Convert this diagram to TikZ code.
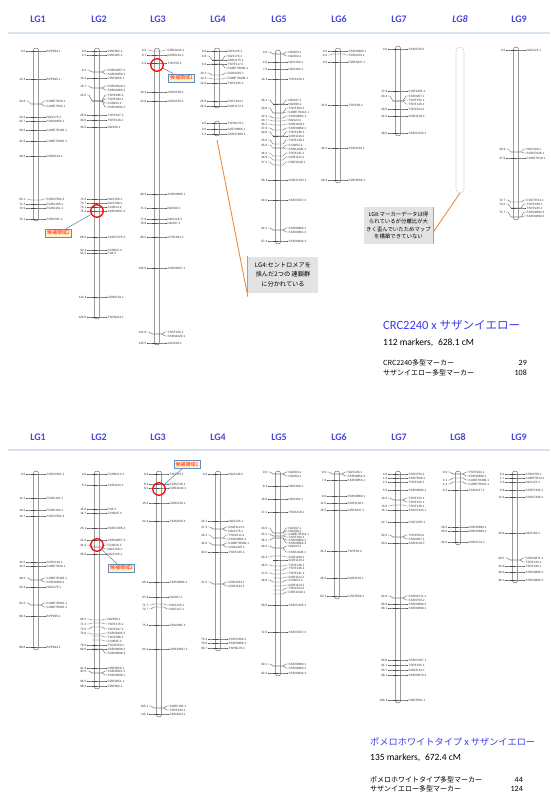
\documentclass[tikz,border=0pt]{standalone}
\usepackage{fontspec}
\setmainfont{Carlito}
\setsansfont{Liberation Sans}
\newfontfamily\cjk{Noto Sans CJK JP}
\usetikzlibrary{positioning}

\definecolor{headblue}{RGB}{72,72,214}
\definecolor{titleblue}{RGB}{60,60,235}
\definecolor{rulecol}{RGB}{214,226,238}
\definecolor{candfill}{RGB}{255,244,200}
\definecolor{candedge}{RGB}{96,140,190}
\definecolor{noteorange}{RGB}{240,140,60}

\tikzset{
  lghead/.style={font=\fontsize{10}{12}\selectfont\bfseries, text=headblue, inner sep=0pt},
  chrbar/.style={draw=black!60, line width=0.45pt, rounded corners=2.5pt, fill=white},
  mkline/.style={draw=black!70, line width=0.3pt},
  mkname/.style={font=\sffamily\fontsize{3.1}{3.4}\selectfont, inner sep=0pt, text=black!80},
  candbox/.style={draw=candedge, line width=0.8pt, fill=candfill, text=red!85!orange,
    font=\cjk\fontsize{5}{6}\selectfont, inner sep=1.6pt},
  candring/.style={draw=red, line width=1.3pt, circle, minimum size=12.5pt, inner sep=0pt},
  candlink/.style={draw=candedge, line width=0.6pt},
  notebox/.style={fill=black!11, align=center, inner sep=2pt},
  noteline/.style={draw=noteorange, line width=0.9pt},
  txt/.style={anchor=base west, inner sep=0pt},
}

% one linkage group: x, top, bottom, {y/label y/cM/marker}
\newcommand{\linkgroup}[4]{%
  \draw[chrbar] (#1-2.6,#2) rectangle (#1+2.6,#3);
  \foreach \ypos/\ylab/\cm/\nm in {#4}{%
    \draw[mkline] (#1-5,\ypos) -- (#1+5,\ypos) -- (#1+8,\ylab) -- (#1+10,\ylab);
    \node[mkname, anchor=west] (r#1-\ypos-\ylab) at (#1+10.5,\ylab) {\nm};
    \ifx\cm\empty\else
      \draw[mkline] (#1-5,\ypos) -- (#1-8,\ylab) -- (#1-10,\ylab);
      \node[mkname, anchor=east] (l#1-\ypos-\ylab) at (#1-10.5,\ylab) {\cm};
    \fi
  }%
}

\begin{document}
\begin{tikzpicture}[x=1pt, y=-1pt]
  \useasboundingbox (0,0) rectangle (550,794);
  \fill[white] (0,0) rectangle (550,794);

  % ---------- upper map ----------
  \foreach \i/\x in {1/38,2/99,3/158,4/218,5/279,6/339,7/399,9/519}
    \node[lghead] (ht\i) at (\x,19) {LG\i};
  \node[lghead, font=\fontsize{10}{12}\selectfont\bfseries\itshape] (ht8) at (460,19) {LG8};
  \draw[rulecol, line width=1.4pt] (8,33) -- (550,33);

  \linkgroup{36}{48}{221}{51/51/0.0/BPP004.1, 79/79/12.4/BPP005.1, 104/101/24.8/CUBE7R20.1,
    104/106//CUBE7R02.1, 117/117/30.4/NGS175.1, 121/121/32.7/SSR30458.1,
    130/130/36.8/CUBE7R106.1, 141/141/41.9/CUBE7R005.1, 156/156/48.6/GSR0161.1,
    200/199/65.1/SSR37562.3, 204/204/71.3/FGRA165.1, 208/208/72.9/FGRA161.1,
    219/219/76.1/SSR3781.1}
  \linkgroup{97}{48}{319}{51/51/0.0/CiBE602.1, 55/55/2.2/CiBE485.1, 72/70/9.2/SSR30457.2,
    72/74//SSR30456.2, 78/78/13.2/CiBE3056.1, 88/86/18.7/SSR30520.2, 88/90//SSR30465.2,
    101/95/22.0/TSRF286.1, 101/99//TSRF284.1, 101/103//CX0043.2, 101/107//SSR30434.2,
    115/115/28.6/TSRF017.2, 120/120/30.0/TSRF116.1, 127/127/36.0/NGS06.1,
    199/199/73.3/NGS158.1, 203/203/73.7/NGS198.1, 207/207/75.1/CX0014.2,
    211/211/75.4/SSR30437.2, 237/237/88.6/SSR37475.3, 250/250/92.4/CX0062.3,
    253/253/93.1/FX8.3, 297/297/113.4/GSR0132.1, 317/317/120.6/TSRN214.1}
  \linkgroup{157}{48}{345}{51/50/0.0/CiBE1644.1, 55/55/0.7/GSR0161.1, 63/63/4.0/TSR705.2,
    92/92/18.3/GSR2150.1, 101/101/22.8/GSR2155.1, 194/194/68.3/SSR30866.1,
    208/208/71.4/NGS09.1, 219/219/77.6/NGS126.1, 223/223/78.8/NGS07.1,
    237/237/88.0/GTH1061.1, 268/268/105.0/SSR30847.1, 334/332/131.8/TSRF156.1,
    334/336//SSR44120.1, 343/343/135.5/GR3202.1}
  \linkgroup{217}{48}{108}{51/51/0.0/NGS126.1, 60/56/4.8/NGS176.1, 60/60//GSR1175.1,
    64/64/5.8/TSRF117.2, 64/68//CUBE7R009.1, 75/73/10.1/GSR4325.1,
    79/78/12.2/CUBE7R008.1, 83/83/14.9/TSRF225.1, 101/101/23.8/GSF1104.1,
    106/106/24.3/GSR1172.1}
  \linkgroup{217}{121}{136}{123/123/0.0/TSRN170.1, 129/129/3.6/GSF30866.1,
    134/134/5.3/GSR37606.1}
  \linkgroup{278}{50}{244}{54/52/0.0/NGS63.1, 54/56//NGS64.1, 62/62/4.0/NGS180.1,
    69/69/7.6/NGS184.1, 79/79/14.4/TSR1410.1, 104/100/26.1/NGS97.1, 104/104//NGS98.1,
    113/108/30.6/TSRF204.1, 113/112//CUBE7R413.1, 118/116/32.2/SSR30864.1,
    121/120/33.7/NGS24.1, 125/124/35.2/GSR1109.1, 130/128/37.0/SSR30869.1,
    136/132/40.0/TSRF136.1, 136/136//GSR1110.1, 144/140/43.5/TSRF138.1,
    148/145/45.6/CX0054.2, 148/149//SSR11626.1, 156/153/46.3/TSRF211.1,
    160/157/46.9/GSR1112.1, 165/162/47.1/CiBE3248.1, 180/180/58.4/GSR37425.1,
    200/200/69.4/SSR37627.3, 230/228/92.1/SSR30860.1, 230/232//SSR30861.2,
    241/241/97.4/SSR30844.2}
  \linkgroup{338}{48}{183}{51/51/0.0/SSR30860.1, 54/55/2.0/SSR3150.1, 62/62/9.0/CiBE5447.1,
    105/105/25.0/TSRF56.2, 148/148/45.2/SSR3139.1, 180/180/68.4/CiBE5566.1}
  \linkgroup{398}{46}{136}{49/49/0.0/SSR3750.1, 91/91/17.9/CiSE2165.1, 101/96/20.4/SSR3007.1,
    101/100//TSRF152.1, 101/104//TSRF126.1, 109/109/26.0/TSR1504.2,
    116/116/32.2/GSR3136.1, 133/133/38.0/SSR37423.1}
  \draw[gray!70, densely dotted, line width=0.6pt, rounded corners=4pt] (456,47) rectangle (464,193);
  \coordinate (lg8end) at (460,193);
  \linkgroup{516}{47}{220}{50/50/0.0/NGS121.1, 152/149/45.9/NGS160.1, 152/153//SSR37626.1,
    158/158/47.9/CUBE7R18.1, 202/200/72.7/CiSE7R14.1, 208/204/74.0/TSRF180.1,
    208/208//TSRF225.1, 217/212/75.7/SSR30860.2, 217/216//SSR30860.3}

  % candidate regions (upper)
  \node[candring] (ct1) at (157,65) {};
  \node[candbox] (bt1) at (181.5,78) {候補領域1};
  \draw[candlink] (ct1) -- (bt1);
  \node[candring] (ct2) at (97,211) {};
  \node[candbox] (bt2) at (58.5,233) {候補領域2};
  \draw[candlink] (ct2) -- (bt2);

  % notes
  \coordinate (lg4end) at (217,140);
  \node[notebox, minimum width=70pt, minimum height=36pt,
        font=\cjk\fontsize{6.2}{9.5}\selectfont] (n4) at (283,274.5)
        {LG4:セントロメアを\\挟んだ2つの 連鎖群\\に分かれている};
  \draw[noteline] (lg4end) -- ([yshift=-4pt]n4.south west);
  \draw[noteline] (n4.north west) -- (n4.south west);
  \node[notebox, minimum width=70pt, minimum height=36pt,
        font=\cjk\fontsize{5.4}{7.6}\selectfont] (n8) at (398.5,225.5)
        {LG8:マーカーデータは得\\られているが分離比が大\\きく歪んでいたためマップ\\を構築できていない};
  \draw[noteline] (lg8end) -- ([yshift=-6pt]n8.east);
  \draw[noteline] (n8.north east) -- (n8.south east);

  % summary (upper)
  \node[txt, font=\fontsize{12.5}{14}\selectfont, text=titleblue] (sumt) at (383,329)
    {CRC2240 x {\cjk\fontsize{11.5}{14}\selectfont サザンイエロー}};
  \node[txt, font=\fontsize{9.5}{11}\selectfont] (mkt) at (383,345) {112 markers,\; 628.1 cM};
  \node[txt, font=\cjk\fontsize{7}{9}\selectfont] (pa) at (383,365) {CRC2240多型マーカー};
  \node[txt, font=\cjk\fontsize{7}{9}\selectfont] (pb) at (383,375) {サザンイエロー多型マーカー};
  \node[anchor=base east, inner sep=0pt, font=\fontsize{8}{9}\selectfont] (na) at (527,365) {29};
  \node[anchor=base east, inner sep=0pt, font=\fontsize{8}{9}\selectfont] (nb) at (527,375) {108};

  % ---------- lower map ----------
  \foreach \i/\x in {1/38,2/99,3/158,4/218,5/279,6/339,7/399,8/458,9/519}
    \node[lghead] (hb\i) at (\x,437) {LG\i};
  \draw[rulecol, line width=1.4pt] (8,450) -- (550,450);

  \linkgroup{36}{471}{650}{474/474/0.0/SSR37601.1, 498/498/11.2/FGRA181.1,
    510/510/16.6/FGRA183.1, 516/516/19.7/SSR37562.3, 562/562/41.0/GSR2181.1,
    566/566/42.6/CUBE7R20.1, 580/578/48.6/CUBE7R106.1, 580/582//SSR30458.2,
    587/587/52.3/NGS175.1, 605/603/61.6/CUBE7R002.1, 605/607//CUBE7R005.1,
    616/616/66.3/BPP005.1, 647/647/88.8/BPP004.1}
  \linkgroup{97}{471}{689}{474/474/0.0/FGRN213.1, 485/485/5.3/SSR4133.1, 509/509/16.6/FX8.3,
    513/513/16.7/CX0045.3, 528/528/25.1/SSR37405.3, 540/540/31.6/SSR30457.2,
    547/545/34.3/CX0016.2, 547/549//NGS158.1, 554/554/36.6/NGS126.1,
    620/619/68.3/NGS06.1, 623/624/71.2/TSRF176.1, 627/629/73.5/TSRF017.2,
    634/633/75.6/SSR30435.2, 636/637//TSRF286.1, 640/641//CX0045.3,
    645/645/79.6/TSGR350.1, 649/649/80.0/SSR30838.2, 649/653//SSR30838.3,
    668/668/91.3/CiBE5056.1, 673/671/93.5/SSR30521.2, 673/675//SSR30838.1,
    681/681/96.5/CiBE4851.1, 686/686/98.6/CiBE602.1}
  \linkgroup{159}{471}{717}{474/474/0.0/TSR705.1, 484/484/8.3/SSR2718.1, 488/488/8.2/CiBE1644.1,
    503/503/15.6/GSR2155.1, 521/521/22.4/SSR2150.1, 582/582/66.4/SSR30866.1,
    597/597/67.8/NGS07.1, 604/605/71.7/NGS126.1, 607/609/72.7/NGS127.1,
    625/625/75.4/SRA3061.1, 649/649/81.2/GSR30847.1, 708/706/105.1/SNRV130.1,
    708/710//TSRF164.1, 714/714/111.4/SRG3021.1}
  \linkgroup{218}{471}{651}{474/474/0.0/NGS148.1, 521/521/22.1/NGS145.1,
    529/527/27.3/GSR3121.1, 529/531//NGS176.1, 538/535/30.1/TSR1012.2, 538/539//SSR30864.1,
    545/543/32.0/CUBE7R009.1, 545/547//GSR4325.1, 552/552/34.0/TSRF225.1,
    584/582/51.5/GSR1163.1, 584/586//GSR1142.1, 639/639/75.4/SSR37606.1,
    643/643/79.0/SSR30866.1, 648/648/80.7/TSRN170.1}
  \linkgroup{278}{471}{676}{474/472/0.0/NGS63.1, 474/476//NGS64.1, 486/486/8.3/NGS180.1,
    499/499/15.6/NGS184.1, 512/512/17.1/TSR1410.1, 533/528/33.6/NGS97.1, 533/531//NGS98.1,
    536/534/35.1/CUBE7R413.1, 536/537//TSRF204.1, 538/540/36.1/SSR30864.2,
    538/543//SSR30864.3, 548/546/40.3/NGS24.1, 548/552//SSR11628.1,
    556/557/43.4/GSR1108.1, 560/560//GSR1110.1, 566/565/46.6/TSRF138.1,
    570/568//TSRF136.1, 574/573/47.6/TSRF131.1, 578/577//GSR1112.1,
    582/580/48.8/CX0054.2, 586/585//GSR1114.1, 590/588//TSR1504.2,
    594/592//CiBE3248.1, 605/605/56.6/SSR37425.1, 632/632/72.5/SSR37627.3,
    666/664/90.1/SSR30860.1, 666/668//SSR30860.2, 673/673/92.2/SSR30844.2}
  \linkgroup{337}{471}{599}{474/472/0.0/NGS146.1, 474/476//SSR30852.2, 480/480/7.8/SSR30853.1,
    496/496/9.0/SSR30860.1, 503/503/12.5/GSR3130.1, 510/510/15.5/CiBE5447.1,
    551/551/34.4/TSRF56.2, 578/578/46.6/GSR3135.1, 596/596/60.1/CiSE5566.1}
  \linkgroup{398}{471}{703}{474/474/0.0/SSR3750.1, 478/478/1.6/SSR7R46.1, 482/482/2.2/TSRF226.1,
    490/490/5.5/SSR30864.1, 500/498/10.2/TSRF154.1, 500/502//TSRF152.1,
    505/506/13.6/TSRF126.1, 510/510/15.1/SSR37423.1, 522/522/22.7/CiSE2165.1,
    537/535/30.2/TSR1504.2, 537/539//SSR3007.1, 543/543/33.0/GSR3136.1,
    598/596/62.0/SSR30711.1, 598/600//SSR3750.2, 604/604/66.6/SSR30868.3,
    608/608/68.1/SSR30869.1, 660/660/89.8/SSR37407.1, 665/665/91.1/TSRF165.1,
    670/670/93.7/GSR3101.1, 675/675/96.1/SSR30870.3, 700/700/108.4/CiBE5501.1}
  \linkgroup{458}{471}{545}{474/472/0.0/TSRF204.1, 474/476//SSR30460.1, 478/480/3.1/CUBE7R409.1,
    482/484/4.4/CUBE7R010.1, 490/490/8.2/SSR3147.1, 527/527/26.5/GSR30866.1,
    531/531/28.6/GSR30860.1, 542/542/32.0/GSR2131.1}
  \linkgroup{515}{471}{583}{474/474/0.0/SSR3750.1, 478/478/1.7/CUBE7R14.1, 482/482/3.3/NGS121.1,
    490/490/9.9/SSR37426.1, 497/497/13.4/SSR37426.2, 533/533/29.9/NGS160.1,
    560/558/40.5/SSR30874.1, 560/562//TSRF226.1, 566/566/43.4/TSRF180.1,
    572/572/46.0/SSR30860.2, 580/580/48.1/SSR30860.3}

  % candidate regions (lower)
  \node[candring] (cb2) at (97,545) {};
  \node[candbox] (bb2) at (121.5,568) {候補領域2};
  \draw[candlink] (cb2) -- (bb2);
  \node[candring] (cb1) at (159,489) {};
  \node[candbox] (bb1) at (187,464.5) {候補領域1};
  \draw[candlink] (cb1) -- (bb1);

  % summary (lower)
  \node[txt, font=\cjk\fontsize{9.2}{12}\selectfont, text=titleblue] (sumb) at (370,745)
    {ポメロホワイトタイプ {\rmfamily\fontsize{10.5}{12}\selectfont x} サザンイエロー};
  \node[txt, font=\fontsize{9.5}{11}\selectfont] (mkb) at (370,760) {135 markers,\; 672.4 cM};
  \node[txt, font=\cjk\fontsize{7}{9}\selectfont] (pc) at (370,782) {ポメロホワイトタイプ多型マーカー};
  \node[txt, font=\cjk\fontsize{7}{9}\selectfont] (pd) at (370,791) {サザンイエロー多型マーカー};
  \node[anchor=base east, inner sep=0pt, font=\fontsize{8}{9}\selectfont] (nc) at (523,782) {44};
  \node[anchor=base east, inner sep=0pt, font=\fontsize{8}{9}\selectfont] (nd) at (523,791) {124};
\end{tikzpicture}
\end{document}
